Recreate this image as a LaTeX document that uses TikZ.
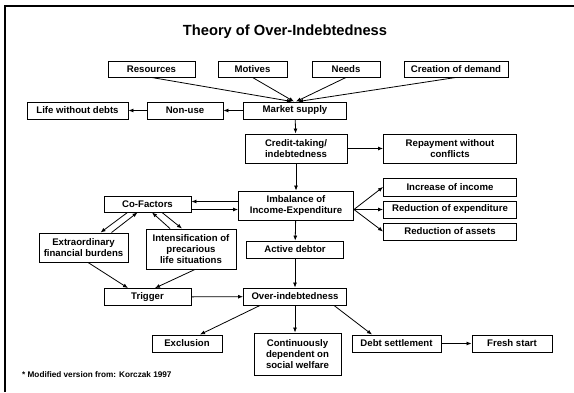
\documentclass[tikz,border=0pt]{standalone}
\usepackage{fontspec}
\setmainfont{Liberation Sans}
\usetikzlibrary{arrows.meta}

\begin{document}
\begin{tikzpicture}[x=1pt, y=-1pt,
	 flowbox/.style={draw, line width=0.9pt, inner sep=0pt, align=center,
	   font=\fontsize{9.6}{11}\selectfont\bfseries},
	 flowarrow/.style={line width=0.8pt, -{Latex[length=5pt,width=4pt]}}]
	    \useasboundingbox (0,0) rectangle (574,392);
	    \draw[line width=2pt] (5,392) -- (5,6) -- (574,6);
	    \node (title) at (285,32) [font=\fontsize{14.7}{16}\selectfont\bfseries] {Theory of Over-Indebtedness};
	    \node (res) at (151.5,69) [flowbox, minimum width=87pt, minimum height=16pt] {Resources};
	    \node (mot) at (252.5,69) [flowbox, minimum width=69pt, minimum height=16pt] {Motives};
	    \node (needs) at (346,69) [flowbox, minimum width=68pt, minimum height=16pt] {Needs};
	    \node (demand) at (456,69) [flowbox, minimum width=104pt, minimum height=16pt] {Creation of demand};
	    \node (market) at (295,110.5) [flowbox, minimum width=103pt, minimum height=17pt] {Market supply};
	    \node (nonuse) at (185,110.5) [flowbox, minimum width=76pt, minimum height=17pt] {Non-use};
	    \node (life) at (77.5,110.5) [flowbox, minimum width=101pt, minimum height=17pt] {Life without debts};
	    \node (credit) at (296,148.5) [flowbox, minimum width=102pt, minimum height=29pt] {Credit-taking/\\indebtedness};
	    \node (repay) at (450,148.5) [flowbox, minimum width=133pt, minimum height=29pt] {Repayment without\\conflicts};
	    \node (imbal) at (296,205.5) [flowbox, minimum width=115pt, minimum height=29pt] {Imbalance of\\Income-Expenditure};
	    \node (incr) at (450,187) [flowbox, minimum width=133pt, minimum height=18pt] {Increase of income};
	    \node (redexp) at (450,209.5) [flowbox, minimum width=133pt, minimum height=17pt] {Reduction of expenditure};
	    \node (redass) at (450,231.5) [flowbox, minimum width=133pt, minimum height=17pt] {Reduction of assets};
	    \node (active) at (295,249.5) [flowbox, minimum width=97pt, minimum height=17pt] {Active debtor};
	    \node (over) at (295,296.5) [flowbox, minimum width=103pt, minimum height=17pt] {Over-indebtedness};
	    \node (cof) at (147.5,204) [flowbox, minimum width=87pt, minimum height=16pt] {Co-Factors};
	    \node (extra) at (83.5,247.5) [flowbox, minimum width=89pt, minimum height=29pt] {Extraordinary\\financial burdens};
	    \node (intens) at (191,249) [flowbox, minimum width=90pt, minimum height=40pt] {Intensification of\\precarious\\life situations};
	    \node (trigger) at (147.5,297) [flowbox, minimum width=87pt, minimum height=17pt] {Trigger};
	    \node (excl) at (187,343.5) [flowbox, minimum width=70pt, minimum height=17pt] {Exclusion};
	    \node (cont) at (297.5,354) [flowbox, minimum width=87pt, minimum height=42pt] {Continuously\\dependent on\\social welfare};
	    \node (debt) at (396.5,343.5) [flowbox, minimum width=89pt, minimum height=17pt] {Debt settlement};
	    \node (fresh) at (512,343.5) [flowbox, minimum width=80pt, minimum height=17pt] {Fresh start};
	    \node (note) at (22,375) [anchor=west, inner sep=0pt, font=\fontsize{8.2}{10}\selectfont\bfseries] {* Modified version from: Korczak 1997};
	    \draw[flowarrow] (res.south) -- ([xshift=-3pt]market.north);
	    \draw[flowarrow] (mot.south) -- ([xshift=-1pt]market.north);
	    \draw[flowarrow] (needs.south) -- ([xshift=1pt]market.north);
	    \draw[flowarrow] (demand.south) -- ([xshift=3pt]market.north);
	    \draw[flowarrow] (market) -- (nonuse);
	    \draw[flowarrow] (nonuse) -- (life);
	    \draw[flowarrow] (market) -- (credit);
	    \draw[flowarrow] (credit) -- (credit -| repay.west);
	    \draw[flowarrow] (credit) -- (imbal);
	    \coordinate (fan) at (imbal.east |- redexp.west);
	    \draw[flowarrow] (fan) -- (incr.west);
	    \draw[flowarrow] (fan) -- (redexp.west);
	    \draw[flowarrow] (fan) -- (redass.west);
	    \draw[flowarrow] ([yshift=4pt]imbal.west) -- ([yshift=4pt]imbal.west -| cof.east);
	    \draw[flowarrow] ([yshift=-4pt]imbal.west -| cof.east) -- ([yshift=-4pt]imbal.west);
	    \draw[flowarrow] ([xshift=-20pt]cof.south) -- ([xshift=17pt]extra.north);
	    \draw[flowarrow] ([xshift=28pt]extra.north) -- ([xshift=-10pt]cof.south);
	    \draw[flowarrow] ([xshift=-21pt]intens.north) -- ([xshift=4.5pt]cof.south);
	    \draw[flowarrow] ([xshift=14.5pt]cof.south) -- ([xshift=-9pt]intens.north);
	    \draw[flowarrow] (imbal) -- (active);
	    \draw[flowarrow] (active) -- (over);
	    \draw[flowarrow] ([xshift=4.5pt]extra.south) -- ([xshift=-19.5pt]trigger.north);
	    \draw[flowarrow] ([xshift=4pt]intens.south) -- ([xshift=7.5pt]trigger.north);
	    \draw[flowarrow] (trigger) -- (over);
	    \draw[flowarrow] ([xshift=-35pt]over.south) -- ([xshift=13pt]excl.north);
	    \draw[flowarrow] (over.south) -- (over.south |- cont.north);
	    \draw[flowarrow] ([xshift=39pt]over.south) -- ([xshift=-24.5pt]debt.north);
	    \draw[flowarrow] (debt) -- (fresh);
	 \end{tikzpicture}
\end{document}
